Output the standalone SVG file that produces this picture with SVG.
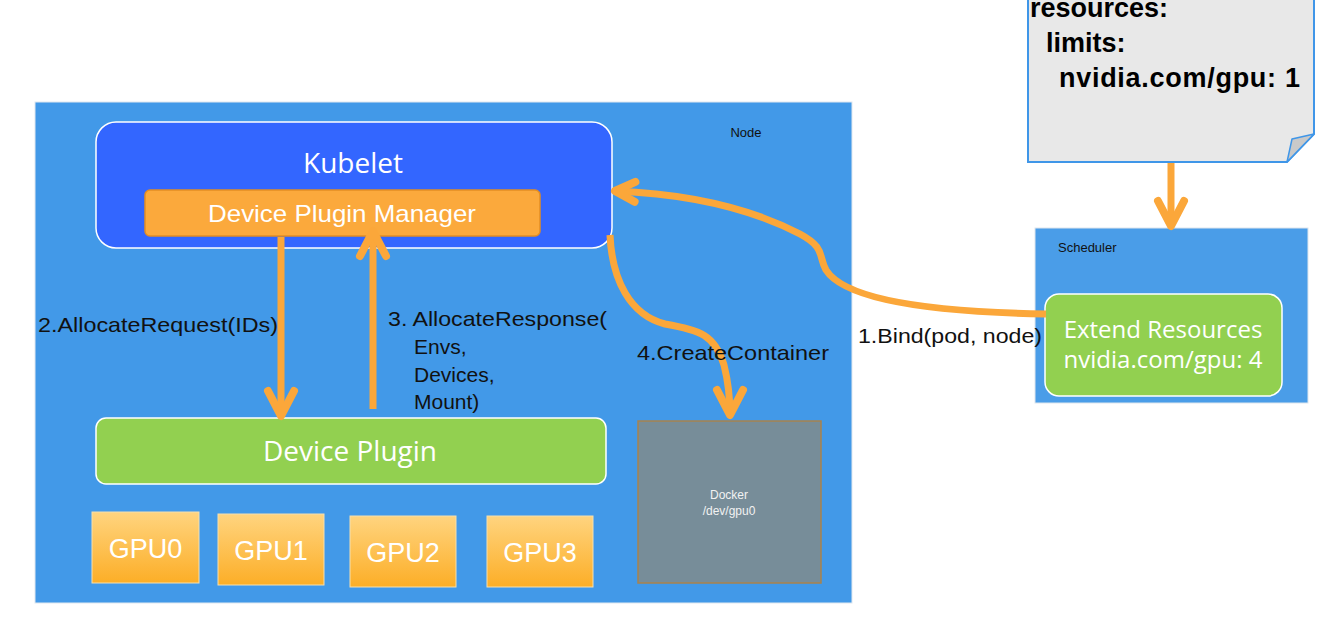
<svg xmlns="http://www.w3.org/2000/svg" width="1336" height="620" viewBox="0 0 1336 620">
<style>
.lbl{font-family:"Liberation Sans",Arial,sans-serif;fill:#111}
.wt{fill:#fff}
.os{font-family:"Open Sans","Noto Sans",sans-serif}
.ls{font-family:"Liberation Sans",Arial,sans-serif}
.conn{fill:none;stroke:#FBA73A;stroke-width:7;stroke-linecap:butt}
.gpu{fill:url(#gpuGrad);stroke:#F4E0B0;stroke-width:1}
</style>
<defs>
<linearGradient id="gpuGrad" x1="0" y1="0" x2="0" y2="1">
<stop offset="0" stop-color="#FFD47F"/>
<stop offset="1" stop-color="#FCAE27"/>
</linearGradient>
<marker id="chev" markerUnits="userSpaceOnUse" viewBox="-34 -22 44 44" markerWidth="44" markerHeight="44" refX="0" refY="0" orient="auto" overflow="visible">
<path d="M -25 -13 L 0 0 L -25 13" fill="none" stroke="#FBA73A" stroke-width="8" stroke-linecap="round" stroke-linejoin="round"/>
</marker>
<marker id="chevS" markerUnits="userSpaceOnUse" viewBox="-34 -22 44 44" markerWidth="44" markerHeight="44" refX="0" refY="0" orient="auto" overflow="visible">
<path d="M -20 -10 L 0 0 L -20 10" fill="none" stroke="#FBA73A" stroke-width="8" stroke-linecap="round" stroke-linejoin="round"/>
</marker>
</defs>
<rect width="1336" height="620" fill="#fff"/>

<g id="node">
<rect x="35" y="102" width="817" height="501" fill="#4299E8" stroke="#E0E8F0" stroke-width="1"/>
<text x="746" y="137" class="ls" font-size="13" text-anchor="middle" fill="#111">Node</text>
</g>

<g id="kubelet">
<rect x="96" y="122" width="516" height="126" rx="20" fill="#3366FF" stroke="#fff" stroke-width="1.5"/>
<text x="353" y="173" class="os wt" font-size="28" text-anchor="middle">Kubelet</text>
</g>

<g id="device-plugin-manager">
<rect x="145" y="190" width="395" height="46" rx="5" fill="#FBA93C" stroke="#E48D22" stroke-width="1.5"/>
<text x="342" y="222" class="ls wt" font-size="24" text-anchor="middle" textLength="268" lengthAdjust="spacingAndGlyphs">Device Plugin Manager</text>
</g>

<g id="device-plugin">
<rect x="96" y="418" width="510" height="66" rx="10" fill="#92D050" stroke="#fff" stroke-width="1.5"/>
<text x="350" y="461" class="os wt" font-size="28" text-anchor="middle">Device Plugin</text>
</g>

<g id="gpu0">
<rect x="92" y="512" width="107" height="71" class="gpu"/>
<text x="145.5" y="558" class="ls wt" font-size="27" text-anchor="middle">GPU0</text>
</g>
<g id="gpu1">
<rect x="218" y="514" width="106" height="71" class="gpu"/>
<text x="271" y="560" class="ls wt" font-size="27" text-anchor="middle">GPU1</text>
</g>
<g id="gpu2">
<rect x="350" y="516" width="106" height="71" class="gpu"/>
<text x="403" y="562" class="ls wt" font-size="27" text-anchor="middle">GPU2</text>
</g>
<g id="gpu3">
<rect x="487" y="516" width="106" height="71" class="gpu"/>
<text x="540" y="562" class="ls wt" font-size="27" text-anchor="middle">GPU3</text>
</g>

<g id="docker">
<rect x="638" y="421" width="183" height="162" fill="#778D99" stroke="#A8834E" stroke-width="1.5"/>
<text x="729" y="499" class="ls" font-size="12" text-anchor="middle" fill="#F2F2F2">Docker</text>
<text x="729" y="515" class="ls" font-size="12" text-anchor="middle" fill="#F2F2F2">/dev/gpu0</text>
</g>

<g id="pod-spec">
<path d="M 1028 -6 L 1314 -6 L 1314 134 L 1287 162 L 1028 162 Z" fill="#E8E8E8" stroke="#3F96E8" stroke-width="2"/>
<path d="M 1287 162 L 1292 139 L 1314 134 Z" fill="#C9C9C9" stroke="#3F96E8" stroke-width="1.5" stroke-linejoin="round"/>
<text x="1030" y="17" class="ls" font-size="27" font-weight="bold" fill="#000">resources:</text>
<text x="1046" y="52" class="ls" font-size="27" font-weight="bold" fill="#000">limits:</text>
<text x="1059" y="87" class="ls" font-size="27" font-weight="bold" fill="#000" textLength="241" lengthAdjust="spacing">nvidia.com/gpu: 1</text>
</g>

<g id="scheduler">
<rect x="1035" y="228" width="273" height="175" fill="#4A9DE8" stroke="#DDE6EE" stroke-width="1"/>
<text x="1058" y="252" class="ls" font-size="13" fill="#111">Scheduler</text>
</g>

<g id="extend-resources">
<rect x="1045" y="294" width="237" height="102" rx="14" fill="#92D050" stroke="#fff" stroke-width="1.5"/>
<text x="1163" y="338" class="os wt" font-size="24" text-anchor="middle">Extend Resources</text>
<text x="1163" y="368" class="os wt" font-size="24" text-anchor="middle">nvidia.com/gpu: 4</text>
</g>

<g id="connectors">
<path class="conn" d="M 1171 163 L 1171 226" marker-end="url(#chev)"/>
<path class="conn" d="M 1046 314 C 930 312, 845 300, 826 270 C 818 256, 826 248, 800 234 C 750 208, 690 194, 615 191" marker-end="url(#chevS)"/>
<path class="conn" d="M 281 237 L 281 416" marker-end="url(#chev)"/>
<path class="conn" d="M 373 409 L 373 231" marker-end="url(#chev)"/>
<path class="conn" d="M 610 235 C 612 280, 630 315, 665 324 C 700 330, 715 335, 724 365 C 729 385, 730 400, 730 415" marker-end="url(#chev)"/>
<text x="38" y="332" class="lbl" font-size="21" textLength="240" lengthAdjust="spacingAndGlyphs">2.AllocateRequest(IDs)</text>
<text x="388" y="326" class="lbl" font-size="21" textLength="219" lengthAdjust="spacingAndGlyphs">3. AllocateResponse(</text>
<text x="414" y="354" class="lbl" font-size="21">Envs,</text>
<text x="414" y="382" class="lbl" font-size="21">Devices,</text>
<text x="414" y="409" class="lbl" font-size="21">Mount)</text>
<text x="637" y="360" class="lbl" font-size="21" textLength="192" lengthAdjust="spacingAndGlyphs">4.CreateContainer</text>
<text x="858" y="343" class="lbl" font-size="21" textLength="184" lengthAdjust="spacingAndGlyphs">1.Bind(pod, node)</text>
</g>
</svg>
